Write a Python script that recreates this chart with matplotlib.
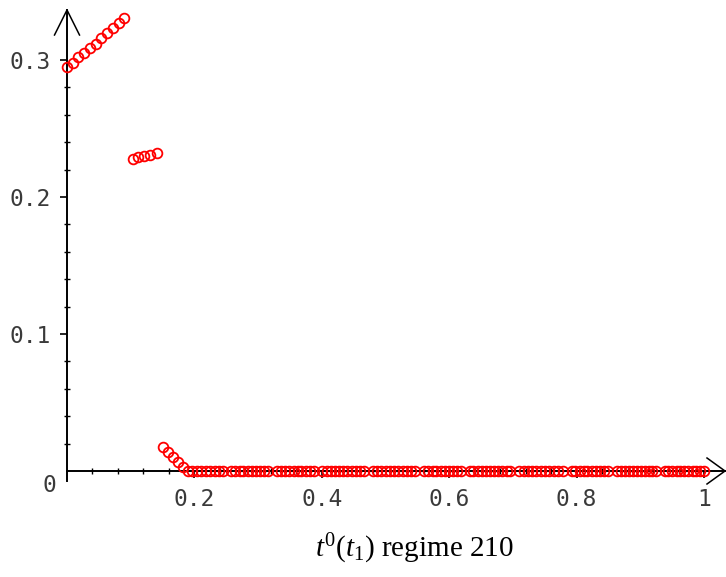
import numpy as np
import matplotlib
matplotlib.use("Agg")
import matplotlib.pyplot as plt

plt.rcParams['mathtext.fontset'] = 'custom'
plt.rcParams['mathtext.rm'] = 'Liberation Serif'
plt.rcParams['mathtext.it'] = 'Liberation Serif:italic'

# Werte
x_high = [0.000, 0.009, 0.018, 0.027, 0.036, 0.045, 0.054, 0.063, 0.072, 0.081, 0.090]
y_high = [0.295, 0.298, 0.302, 0.305, 0.309, 0.312, 0.316, 0.320, 0.323, 0.327, 0.331]

x_mid = [0.103, 0.112, 0.121, 0.131, 0.141]
y_mid = [0.228, 0.229, 0.230, 0.231, 0.232]

x_drop = [0.151, 0.159, 0.166, 0.174, 0.182]
y_drop = [0.0175, 0.0138, 0.0102, 0.0065, 0.0030]

x_zero = [
    0.190, 0.197, 0.204, 0.211, 0.218, 0.225, 0.232, 0.239, 0.245,
    0.258, 0.264, 0.271, 0.277, 0.284, 0.290, 0.297, 0.303, 0.310, 0.316,
    0.330, 0.336, 0.343, 0.349, 0.356, 0.362, 0.368, 0.375, 0.381, 0.387,
    0.401, 0.408, 0.414, 0.421, 0.427, 0.434, 0.440, 0.447, 0.453, 0.460, 0.466,
    0.480, 0.487, 0.493, 0.500, 0.507, 0.513, 0.520, 0.527, 0.534, 0.540, 0.547,
    0.561, 0.567, 0.574, 0.580, 0.587, 0.593, 0.599, 0.606, 0.612, 0.618,
    0.632, 0.638, 0.645, 0.651, 0.658, 0.664, 0.671, 0.677, 0.683, 0.690, 0.696,
    0.710, 0.717, 0.723, 0.730, 0.737, 0.744, 0.751, 0.757, 0.764, 0.771, 0.778,
    0.792, 0.798, 0.805, 0.811, 0.817, 0.824, 0.830, 0.836, 0.843, 0.849,
    0.863, 0.869, 0.876, 0.882, 0.888, 0.895, 0.901, 0.907, 0.913, 0.918, 0.924,
    0.938, 0.944, 0.950, 0.957, 0.963, 0.969, 0.975, 0.982, 0.988, 0.994, 1.000,
]
y_zero = [0.0] * len(x_zero)

x_ticks = [0.2, 0.4, 0.6, 0.8, 1.0]
x_ticklabels = ["0.2", "0.4", "0.6", "0.8", "1"]
y_ticks = [0.1, 0.2, 0.3]
y_ticklabels = ["0.1", "0.2", "0.3"]

W, H = 726, 577
fig = plt.figure(figsize=(W / 100, H / 100), dpi=100)
ax = fig.add_axes([67 / W, 106 / H, 637 / W, 411 / H])
ax.set_xlim(0, 1)
ax.set_ylim(0, 0.3)

# Pixel -> Daten
px = 1 / 637
py = 0.3 / 411

for s in ax.spines.values():
    s.set_visible(False)

# Achsen mit Pfeilen (Maple-Stil)
axis_kw = dict(color="black", lw=1.4, clip_on=False, zorder=1)
ax.plot([0, 0], [-10 * py, 461 * py], **axis_kw)
ax.plot([0, 658 * px], [0, 0], **axis_kw)
arrow_kw = dict(color="black", lw=1.1, clip_on=False, zorder=1)
ax.plot([-12.5 * px, 0, 12.5 * px], [436 * py, 461 * py, 436 * py], **arrow_kw)
ax.plot([640 * px, 658 * px, 640 * px], [13 * py, 0, -13 * py], **arrow_kw)

mk = dict(ls="none", marker="o", ms=7.0, mfc="none", mec="red", mew=1.3,
          clip_on=False, zorder=3)
ax.plot(x_high, y_high, **mk)
ax.plot(x_mid, y_mid, **mk)
ax.plot(x_drop, y_drop, **mk)
ax.plot(x_zero, y_zero, **mk)

tick_font = dict(family="DejaVu Sans Mono", size=16.5, color="#3a3a3a")
ax.set_xticks(x_ticks)
ax.set_xticklabels(x_ticklabels, **tick_font)
ax.set_yticks(y_ticks)
ax.set_yticklabels(y_ticklabels, **tick_font)
ax.set_xticks(np.array([0.04, 0.08, 0.12, 0.16, 0.24, 0.28, 0.32, 0.36, 0.44, 0.48,
                        0.52, 0.56, 0.64, 0.68, 0.72, 0.76, 0.84, 0.88, 0.92, 0.96]),
              minor=True)
ax.set_yticks(np.array([0.02, 0.04, 0.06, 0.08, 0.12, 0.14, 0.16, 0.18,
                        0.22, 0.24, 0.26, 0.28]), minor=True)
ax.tick_params(which="major", direction="out", length=5, width=1.2, pad=7)
ax.tick_params(which="minor", direction="inout", length=5, width=1.0)

ax.text(-18 * px, -15 * py, "0", ha="center", va="center", **tick_font)

fig.text(414 / W, 1 - 549 / H, r"$t^{\mathit{0}}(t_{\mathit{1}})$ regime 210",
         ha="center", va="center", fontsize=21, family="Liberation Serif")

fig.savefig("out.png", dpi=100, facecolor="white")
